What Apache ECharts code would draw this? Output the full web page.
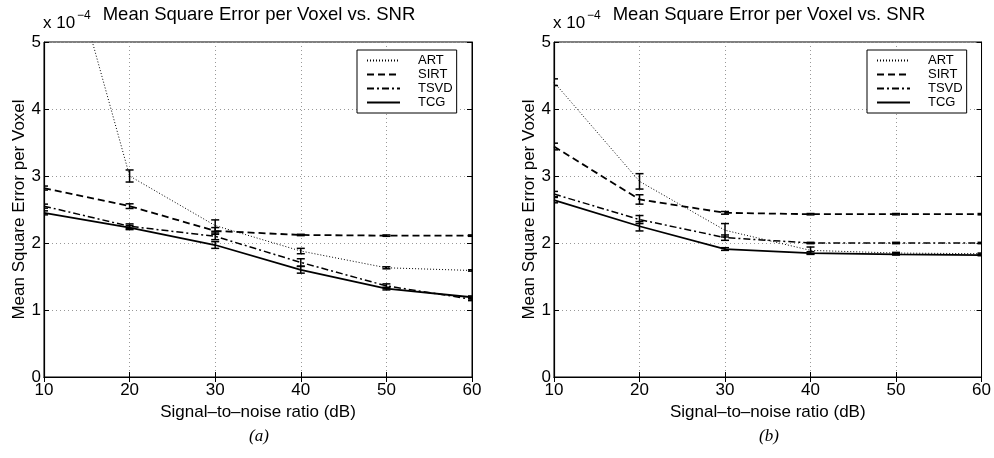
<!DOCTYPE html>
<html><head><meta charset="utf-8">
<script src="https://cdn.jsdelivr.net/npm/echarts@6/dist/echarts.min.js"></script>
<style>html,body{margin:0;padding:0;background:#fff}#c{width:994px;height:458px}</style>
</head><body><div id="c"></div>
<script>
const snr = [10, 20, 30, 40, 50, 60];
const xTicks = [10, 20, 30, 40, 50, 60];
const yTicks = [0, 1, 2, 3, 4, 5];
const methods = ['ART', 'SIRT', 'TSVD', 'TCG'];

// Panel (a) values (x 10^-4)
const a_ART  = [7.6, 3.00, 2.26, 1.88, 1.63, 1.59];
const a_SIRT = [2.82, 2.55, 2.18, 2.12, 2.11, 2.11];
const a_TSVD = [2.55, 2.25, 2.10, 1.71, 1.36, 1.16];
const a_TCG  = [2.45, 2.23, 1.97, 1.60, 1.32, 1.19];
const a_ART_err  = [0.15, 0.09, 0.085, 0.04, 0.015, 0.01];
const a_SIRT_err = [0.03, 0.035, 0.05, 0.01, 0.01, 0.01];
const a_TSVD_err = [0.03, 0.035, 0.05, 0.055, 0.03, 0.02];
const a_TCG_err  = [0.03, 0.03, 0.05, 0.05, 0.02, 0.02];

// Panel (b) values (x 10^-4)
const b_ART  = [4.40, 2.92, 2.19, 1.89, 1.85, 1.84];
const b_SIRT = [3.44, 2.65, 2.45, 2.43, 2.43, 2.43];
const b_TSVD = [2.73, 2.35, 2.08, 2.00, 2.00, 2.00];
const b_TCG  = [2.64, 2.25, 1.91, 1.85, 1.83, 1.82];
const b_ART_err  = [0.05, 0.115, 0.10, 0.05, 0.01, 0.01];
const b_SIRT_err = [0.05, 0.07, 0.02, 0.01, 0.01, 0.01];
const b_TSVD_err = [0.04, 0.06, 0.04, 0.01, 0.01, 0.01];
const b_TCG_err  = [0.04, 0.07, 0.02, 0.02, 0.01, 0.01];

const titleText = 'Mean Square Error per Voxel vs. SNR';
const xTitle = 'Signal\u2013to\u2013noise ratio (dB)';
const yTitle = 'Mean Square Error per Voxel';
const expBase = 'x 10';
const expPow = '\u22124';
const captions = ['(a)', '(b)'];

const FONT = '"Liberation Sans", Arial, sans-serif';
const styles = {
  ART:  {type: [1, 2], width: 1},
  SIRT: {type: [7, 4], width: 1.8},
  TSVD: {type: [7, 3, 2, 3], width: 1.5},
  TCG:  {type: 'solid', width: 1.8}
};

const panels = [
  {left: 44, vals: {ART: a_ART, SIRT: a_SIRT, TSVD: a_TSVD, TCG: a_TCG},
   errs: {ART: a_ART_err, SIRT: a_SIRT_err, TSVD: a_TSVD_err, TCG: a_TCG_err}},
  {left: 554, vals: {ART: b_ART, SIRT: b_SIRT, TSVD: b_TSVD, TCG: b_TCG},
   errs: {ART: b_ART_err, SIRT: b_SIRT_err, TSVD: b_TSVD_err, TCG: b_TCG_err}}
];
const GW = 428, GT = 42, GH = 335;

const grid = [], xAxis = [], yAxis = [], series = [], legend = [], graphic = [];
panels.forEach((p, i) => {
  grid.push({left: p.left, top: GT, width: GW, height: GH, show: true, borderColor: '#000', borderWidth: 1, backgroundColor: '#fff'});
  const gridLine = {show: true, lineStyle: {color: '#999', type: [1, 3], width: 1}};
  xAxis.push({type: 'value', gridIndex: i, min: 10, max: 60, interval: 10, position: 'bottom',
    axisLine: {show: true, lineStyle: {color: '#000', width: 1.2}},
    axisTick: {show: true, inside: true, length: 5, lineStyle: {color: '#000'}},
    axisLabel: {color: '#000', fontFamily: FONT, fontSize: 17, margin: 5,
      formatter: v => xTicks.includes(v) ? String(v) : ''},
    splitLine: gridLine,
    name: xTitle, nameLocation: 'middle', nameGap: 26,
    nameTextStyle: {color: '#000', fontFamily: FONT, fontSize: 17}});
  xAxis.push({type: 'value', gridIndex: i, min: 10, max: 60, interval: 10, position: 'top',
    axisLine: {show: true, lineStyle: {color: '#000', width: 1}},
    axisTick: {show: true, inside: true, length: 5, lineStyle: {color: '#000'}},
    axisLabel: {show: false}, splitLine: {show: false}});
  yAxis.push({type: 'value', gridIndex: i, min: 0, max: 5, interval: 1, position: 'left',
    axisLine: {show: true, lineStyle: {color: '#000', width: 1.2}},
    axisTick: {show: true, inside: true, length: 5, lineStyle: {color: '#000'}},
    axisLabel: {color: '#000', fontFamily: FONT, fontSize: 17, margin: 3,
      formatter: v => yTicks.includes(v) ? String(v) : ''},
    splitLine: gridLine,
    name: yTitle, nameLocation: 'middle', nameGap: 15, nameRotate: 90,
    nameTextStyle: {color: '#000', fontFamily: FONT, fontSize: 17}});
  yAxis.push({type: 'value', gridIndex: i, min: 0, max: 5, interval: 1, position: 'right',
    axisLine: {show: true, lineStyle: {color: '#000', width: 1}},
    axisTick: {show: true, inside: true, length: 5, lineStyle: {color: '#000'}},
    axisLabel: {show: false}, splitLine: {show: false}});

  methods.forEach(m => {
    series.push({name: m, type: 'line', xAxisIndex: 2 * i, yAxisIndex: 2 * i,
      data: snr.map((x, k) => [x, p.vals[m][k]]),
      symbol: 'none', clip: true, silent: true, animation: false,
      lineStyle: {color: '#000', width: styles[m].width, type: styles[m].type},
      itemStyle: {color: '#000'}, z: 3});
    series.push({name: m + '_err', type: 'custom', xAxisIndex: 2 * i, yAxisIndex: 2 * i,
      data: snr.map((x, k) => [x, p.vals[m][k], p.errs[m][k]]),
      clip: true, silent: true, animation: false, z: 4,
      renderItem: (params, api) => {
        const x = api.value(0), y = api.value(1), e = api.value(2);
        const top = api.coord([x, y + e]), bot = api.coord([x, y - e]);
        const hw = 4;
        const st = {stroke: '#000', lineWidth: 1.5};
        return {type: 'group', children: [
          {type: 'line', shape: {x1: top[0], y1: top[1], x2: bot[0], y2: bot[1]}, style: st},
          {type: 'line', shape: {x1: top[0] - hw, y1: top[1], x2: top[0] + hw, y2: top[1]}, style: st},
          {type: 'line', shape: {x1: bot[0] - hw, y1: bot[1], x2: bot[0] + hw, y2: bot[1]}, style: st}
        ]};
      }});
  });

  legend.push({data: methods.map(m => ({name: m, itemStyle: {opacity: 0}})),
    orient: 'vertical', left: p.left + 313, top: 50,
    itemWidth: 33, itemHeight: 12, itemGap: 1, padding: [4, 4, 4, 9],
    borderColor: '#000', borderWidth: 1, backgroundColor: '#fff',
    selectedMode: false,
    textStyle: {color: '#000', fontFamily: FONT, fontSize: 13, lineHeight: 12, padding: [0, 0, 0, 13]}});

  graphic.push({type: 'text', x: p.left + GW / 2 + 1, y: 24,
    style: {text: titleText, fill: '#000', font: '18.5px ' + FONT, textAlign: 'center', textVerticalAlign: 'bottom'}});
  graphic.push({type: 'text', x: p.left - 1, y: 32,
    style: {text: expBase, fill: '#000', font: '17px ' + FONT, textAlign: 'left', textVerticalAlign: 'bottom'}});
  graphic.push({type: 'text', x: p.left + 33, y: 22,
    style: {text: expPow, fill: '#000', font: '12px ' + FONT, textAlign: 'left', textVerticalAlign: 'bottom'}});
  graphic.push({type: 'text', x: p.left + GW / 2 + 1, y: 428,
    style: {text: captions[i], fill: '#000', textAlign: 'center', textVerticalAlign: 'top',
      font: 'italic 17px "Liberation Serif", "Times New Roman", serif'}});
});

const chart = echarts.init(document.getElementById('c'), null, {renderer: 'canvas'});
chart.setOption({animation: false, backgroundColor: '#fff', grid, xAxis, yAxis, series, legend, graphic});
</script>
</body></html>
